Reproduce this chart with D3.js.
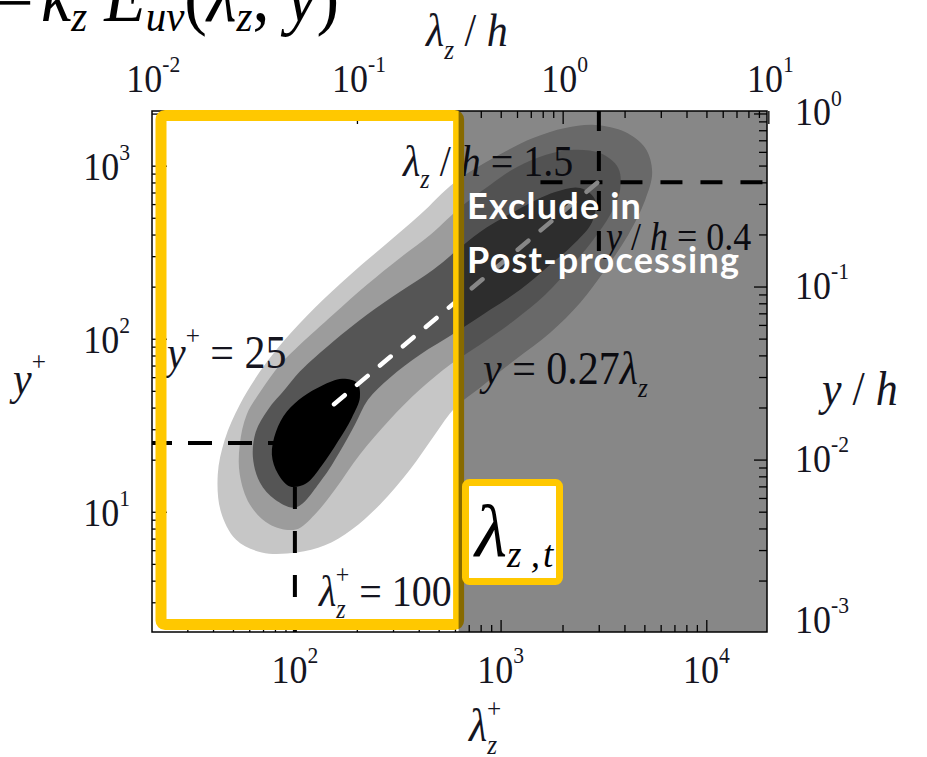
<!DOCTYPE html>
<html><head><meta charset="utf-8">
<script src="https://cdn.jsdelivr.net/npm/d3@7"></script>
<style>
html,body{margin:0;padding:0;background:#fff;}
svg{display:block;}
text{white-space:pre;}
</style></head>
<body><svg id="chart" width="927" height="757"></svg>
<script>
// Premultiplied co-spectrum map k_z E_uv(λ_z, y) for a channel at Re_τ ≈ 2000
const RE_TAU = 2003;
const lambdaPlusExtent = [20.2, 19730];
const yPlusExtent = [2.02, 2070];

// Filled contour outlines, vertices as [log10 λz+, log10 y+]
const levelOuter = [
  [2.010,0.765],[1.839,0.765],[1.713,0.840],[1.640,1.002],[1.625,1.215],[1.659,1.417],
  [1.732,1.619],[1.830,1.810],[1.951,1.994],[2.097,2.179],[2.268,2.369],[2.438,2.542],
  [2.608,2.716],[2.779,2.906],[2.973,3.050],[3.158,3.160],[3.314,3.218],[3.460,3.235],
  [3.606,3.194],[3.703,3.102],[3.737,2.964],[3.703,2.802],[3.620,2.600],[3.508,2.398],
  [3.387,2.208],[3.241,2.035],[3.071,1.879],[2.900,1.717],[2.779,1.602],[2.681,1.446],
  [2.560,1.244],[2.414,1.042],[2.277,0.898],[2.146,0.806]
];
const levelMid = [
  [2.005,0.898],[1.878,0.927],[1.781,1.042],[1.732,1.215],[1.732,1.388],[1.766,1.562],
  [1.839,1.706],[1.927,1.850],[2.024,1.965],[2.185,2.139],[2.350,2.312],[2.511,2.467],
  [2.657,2.600],[2.818,2.773],[2.949,2.889],[3.080,2.993],[3.217,3.062],[3.338,3.091],
  [3.484,3.073],[3.572,2.987],[3.581,2.860],[3.533,2.716],[3.450,2.571],[3.338,2.410],
  [3.217,2.254],[3.071,2.110],[2.900,1.965],[2.754,1.850],[2.608,1.706],[2.462,1.533],
  [2.316,1.331],[2.195,1.129],[2.097,0.985]
];
const levelDark = [
  [2.005,1.025],[1.903,1.071],[1.830,1.169],[1.796,1.313],[1.810,1.463],[1.869,1.590],
  [1.951,1.706],[2.024,1.810],[2.185,1.983],[2.350,2.139],[2.511,2.271],[2.672,2.398],
  [2.779,2.502],[2.900,2.617],[3.080,2.744],[3.265,2.848],[3.387,2.871],[3.460,2.802],
  [3.445,2.675],[3.362,2.554],[3.241,2.427],[3.095,2.283],[2.949,2.167],[2.779,2.035],
  [2.608,1.908],[2.462,1.775],[2.355,1.648],[2.292,1.504],[2.219,1.348],[2.131,1.186]
];
const levelCore = [
  [1.888,1.331],[1.908,1.463],[1.961,1.579],[2.039,1.665],[2.131,1.729],[2.229,1.769],
  [2.302,1.746],[2.316,1.660],[2.277,1.544],[2.209,1.406],[2.131,1.267],[2.054,1.163],
  [1.976,1.146],[1.917,1.221]
];

// Axis decades
const lambdaPlusTicks = [1e2, 1e3, 1e4];
const yPlusTicks = [1e1, 1e2, 1e3];
const lambdaOverHTicks = [1e-2, 1e-1, 1e0, 1e1];
const yOverHTicks = [1e-3, 1e-2, 1e-1, 1e0];

// Reference lines
const yPlusRef = 25;
const lambdaPlusRef = 100;
const lambdaOverHRef = 1.5;
const yOverHRef = 0.4;
const ridgeSlope = 0.27;          // y = 0.27 λz
const ridgeLambdaPlusStart = 155;
const yOverHLineFrom = 0.78;      // λz/h where the y/h = 0.4 guide starts
const lambdaOverHLineTo = 0.16;   // y/h where the λz/h = 1.5 guide stops
const cutoffLambdaPlus = 625;     // λz,t+ : wavelengths above are discarded

const SERIF = "'Liberation Serif','Times New Roman',serif";
const SY = 1.1;   // vertical stretch of the typeset labels
const INK = "#15151f";

const svg = d3.select("#chart");
const L = 152, R = 767, T = 111, B = 632;

const x = d3.scaleLog().domain(lambdaPlusExtent).range([L, R]);
const y = d3.scaleLog().domain(yPlusExtent).range([B, T]);
const xh = d3.scaleLog().domain(lambdaPlusExtent.map(v => v / RE_TAU)).range([L, R]);
const yh = d3.scaleLog().domain(yPlusExtent.map(v => v / RE_TAU)).range([B, T]);

svg.append("defs").append("clipPath").attr("id", "plotClip")
  .append("rect").attr("x", L).attr("y", T).attr("width", R - L).attr("height", B - T);

const plot = svg.append("g").attr("clip-path", "url(#plotClip)");
plot.append("rect").attr("x", L).attr("y", T).attr("width", R - L).attr("height", B - T).attr("fill", "#fff");

// filled contour levels, lightest first
const outline = d3.line()
  .x(d => x(10 ** d[0]))
  .y(d => y(10 ** d[1]))
  .curve(d3.curveCatmullRomClosed.alpha(0.5));
const levels = [
  {pts: levelOuter, fill: "#c6c6c6"},
  {pts: levelMid, fill: "#9c9c9c"},
  {pts: levelDark, fill: "#555555"},
  {pts: levelCore, fill: "#000000"}
];
plot.selectAll("path.level").data(levels).join("path")
  .attr("class", "level")
  .attr("d", d => outline(d.pts))
  .attr("fill", d => d.fill);

// black dashed guides
const guide = (x1, y1, x2, y2, dash, offset) => plot.append("line")
  .attr("x1", x1).attr("y1", y1).attr("x2", x2).attr("y2", y2)
  .attr("stroke", "#000").attr("stroke-width", 4)
  .attr("stroke-dasharray", dash).attr("stroke-dashoffset", offset || 0);

guide(x(lambdaPlusExtent[0]), y(yPlusRef), x(lambdaPlusRef), y(yPlusRef), "24,16", 4);
guide(x(lambdaPlusRef), y(yPlusRef), x(lambdaPlusRef), y(yPlusExtent[0]), "22,22", 0);
guide(xh(lambdaOverHRef), T, xh(lambdaOverHRef), yh(lambdaOverHLineTo), "20,20", 0);
guide(xh(yOverHLineFrom), yh(yOverHRef), R, yh(yOverHRef), "22,18", 0);

// white ridge line y = 0.27 λz
const ridgeEnd = lambdaOverHRef * RE_TAU;
plot.append("line")
  .attr("x1", x(ridgeLambdaPlusStart)).attr("y1", y(ridgeSlope * ridgeLambdaPlusStart))
  .attr("x2", x(ridgeEnd)).attr("y2", y(ridgeSlope * ridgeEnd))
  .attr("stroke", "#fff").attr("stroke-width", 4.5).attr("stroke-linecap", "round")
  .attr("stroke-dasharray", "14,16");

// typeset helper: parts are {t, i (italic), sub, sup, size, shift, dx}
function math(parent, px, py, parts, fs, anchor, fill, sy) {
  const g = parent.append("g").attr("transform", `translate(${px},${py}) scale(1,${sy || SY})`);
  const t = g.append("text").attr("font-family", SERIF).attr("font-size", fs)
    .attr("text-anchor", anchor || "start").attr("fill", fill || INK);
  let cur = 0;
  parts.forEach(p => {
    const shift = p.shift != null ? p.shift : (p.sub ? 0.28 * fs : p.sup ? -0.5 * fs : 0);
    const ts = t.append("tspan").attr("dy", shift - cur).text(p.t);
    if (p.sub || p.sup) ts.attr("font-size", p.size || fs * 0.6);
    else if (p.size) ts.attr("font-size", p.size);
    if (p.i) ts.attr("font-style", "italic");
    if (p.dx) ts.attr("dx", p.dx);
    cur = shift;
  });
  return t;
}

// labels on the map
const notes = svg.append("g");
math(notes, 403, 176, [{t:"λ", i:true},{t:"z", i:true, sub:true},{t:" / "},{t:"h", i:true},{t:" = 1.5"}], 40);
math(notes, 606, 250, [{t:"y", i:true},{t:" / "},{t:"h", i:true},{t:" = 0.4"}], 36);
math(notes, 167, 368, [{t:"y", i:true},{t:"+", sup:true},{t:" = 25"}], 42);
math(notes, 483, 384, [{t:"y", i:true},{t:" = 0.27"},{t:"λ", i:true},{t:"z", i:true, sub:true}], 42);
math(notes, 319, 606, [{t:"λ", i:true},{t:"z", i:true, sub:true},{t:"+", sup:true, dx:-10},{t:" = 100"}], 40);

// axes: ticks point inwards, majors longer than minors
const isDecade = v => Math.abs(Math.log10(v) - Math.round(Math.log10(v))) < 1e-6;
function ticks(scale, axisFn, at, majors, majLen, minLen) {
  const minors = scale.ticks().filter(v => !isDecade(v));
  [[majors, majLen], [minors, minLen]].forEach(([vals, len]) => {
    const g = svg.append("g").attr("transform", at)
      .call(axisFn(scale).tickValues(vals).tickSize(-len).tickFormat(""));
    g.select(".domain").remove();
    g.selectAll(".tick line").attr("stroke", "#000").attr("stroke-width", 1.3);
  });
}
ticks(x, d3.axisBottom, `translate(0,${B})`, lambdaPlusTicks, 12, 7);
ticks(xh, d3.axisTop, `translate(0,${T})`, lambdaOverHTicks.filter(v => v >= xh.domain()[0]), 13, 7);
ticks(y, d3.axisLeft, `translate(${L},0)`, yPlusTicks, 15, 8);
ticks(yh, d3.axisRight, `translate(${R},0)`, yOverHTicks.filter(v => v <= yh.domain()[1] && v >= yh.domain()[0]), 13, 8);

svg.append("rect").attr("x", L).attr("y", T).attr("width", R - L).attr("height", B - T)
  .attr("fill", "none").attr("stroke", "#000").attr("stroke-width", 1.5);

// retained band and the excluded large-wavelength region
const YEL = "#FFC800";
const xc = x(cutoffLambdaPlus);
svg.append("rect").attr("x", L + 9).attr("y", T + 4.5).attr("width", xc - L - 9).attr("height", B - T - 12)
  .attr("rx", 4).attr("fill", "none").attr("stroke", YEL).attr("stroke-width", 11);
svg.append("rect").attr("x", xc).attr("y", T).attr("width", R - xc).attr("height", B - T)
  .attr("fill", "#000").attr("fill-opacity", 0.47);

const excl = svg.append("g").attr("font-family", "Lato, 'Open Sans', sans-serif")
  .attr("font-weight", 700).attr("font-size", 36).attr("letter-spacing", 1.2).attr("fill", "#fff");
excl.append("text").attr("x", 467).attr("y", 219).text("Exclude in");
excl.append("text").attr("x", 467).attr("y", 273).text("Post-processing");

// λz,t tag
svg.append("rect").attr("x", 465.5).attr("y", 482.5).attr("width", 94).attr("height", 99)
  .attr("rx", 4).attr("fill", "#fff").attr("stroke", YEL).attr("stroke-width", 7);
math(svg, 475, 556, [{t:"λ", i:true, size:74},{t:"z", i:true, sub:true, size:37, shift:11},{t:" ,", i:true, sub:true, size:37, shift:11},{t:"t", i:true, sub:true, size:37, shift:11, dx:3}], 70, "start", "#000", 1.0);

// tick labels
const labels = svg.append("g");
const decadeLabel = v => [{t:"10"},{t:String(Math.round(Math.log10(v))), sup:true}];
lambdaPlusTicks.forEach(v => math(labels, x(v), 683, decadeLabel(v), 36, "middle"));
lambdaOverHTicks.forEach(v => math(labels, xh(v) + 2, 92, decadeLabel(v), 36, "middle"));
yPlusTicks.forEach(v => math(labels, 130, y(v) + 14, decadeLabel(v), 36, "end"));
yOverHTicks.forEach(v => math(labels, 795, Math.min(yh(v) + 12, 633), decadeLabel(v), 36, "start"));

// axis titles
math(svg, 426, 46, [{t:"λ", i:true},{t:"z", i:true, sub:true},{t:" / "},{t:"h", i:true}], 42);
math(svg, 13, 394, [{t:"y", i:true},{t:"+", sup:true}], 42);
math(svg, 822, 405, [{t:"y", i:true},{t:" / "},{t:"h", i:true}], 44);
math(svg, 469, 741, [{t:"λ", i:true},{t:"z", i:true, sub:true},{t:"+", sup:true, dx:-10}], 42);

// figure heading, running off the top edge
math(svg, -4, 27, [{t:"−"}], 66, "start", "#000");
math(svg, 41, 21, [{t:"k", i:true},{t:"z", i:true, sub:true, size:41, shift:9},{t:" "},{t:"E", i:true},{t:"uv", i:true, sub:true, size:41, shift:9},
  {t:"("},{t:"λ", i:true},{t:"z", i:true, sub:true, size:41, shift:9},{t:", "},{t:"y", i:true},{t:")"}], 68, "start", "#000");
</script>
</body></html>
